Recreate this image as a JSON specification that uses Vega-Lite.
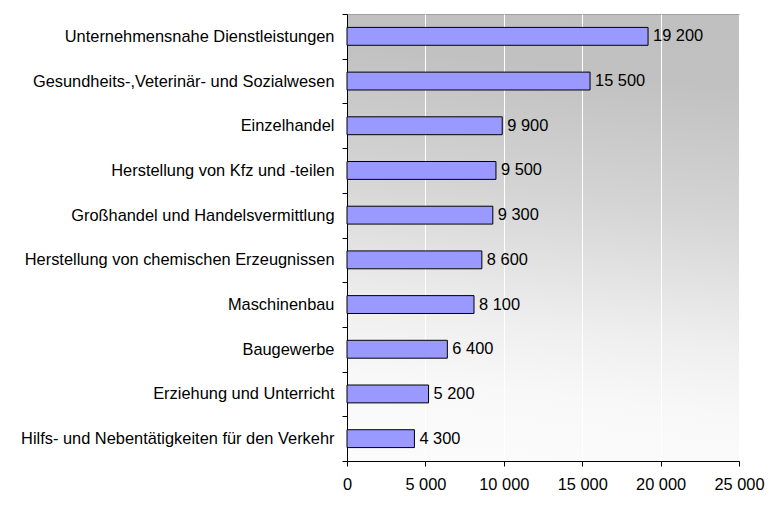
{
  "$schema": "https://vega.github.io/schema/vega-lite/v6.json",
  "width": 392,
  "height": 447,
  "autosize": {"type": "none"},
  "padding": {"left": 347, "top": 14, "right": 31, "bottom": 53},
  "background": "white",
  "config": {
    "font": "Liberation Sans",
    "locale": {"number": {"decimal": ",", "thousands": " ", "grouping": [3], "currency": ["", " €"]}},
    "view": {
      "stroke": "#a0a0a0",
      "fill": {
        "gradient": "linear", "x1": 0.55, "y1": 0, "x2": 0.45, "y2": 1,
        "stops": [
          {"offset": 0, "color": "#c0c0c0"},
          {"offset": 0.12, "color": "#c1c1c1"},
          {"offset": 0.4, "color": "#d4d4d4"},
          {"offset": 0.7, "color": "#efefef"},
          {"offset": 0.85, "color": "#f8f8f8"},
          {"offset": 1, "color": "#fbfbfb"}
        ]
      }
    }
  },
  "data": {
    "values": [
      {"branche": "Unternehmensnahe Dienstleistungen", "wert": 19200},
      {"branche": "Gesundheits-,Veterinär- und Sozialwesen", "wert": 15500},
      {"branche": "Einzelhandel", "wert": 9900},
      {"branche": "Herstellung von Kfz und -teilen", "wert": 9500},
      {"branche": "Großhandel und Handelsvermittlung", "wert": 9300},
      {"branche": "Herstellung von chemischen Erzeugnissen", "wert": 8600},
      {"branche": "Maschinenbau", "wert": 8100},
      {"branche": "Baugewerbe", "wert": 6400},
      {"branche": "Erziehung und Unterricht", "wert": 5200},
      {"branche": "Hilfs- und Nebentätigkeiten für den Verkehr", "wert": 4300}
    ]
  },
  "encoding": {
    "y": {
      "field": "branche", "type": "nominal", "sort": null,
      "scale": {"paddingInner": 0, "paddingOuter": 0},
      "axis": {
        "title": null, "tickBand": "extent", "labelFontSize": 16.4, "labelColor": "black",
        "domainColor": "black", "tickColor": "black", "tickSize": 5, "labelPadding": 8,
        "labelLimit": 400, "grid": false
      }
    },
    "x": {
      "field": "wert", "type": "quantitative",
      "scale": {"domain": [0, 25000], "nice": false},
      "axis": {
        "title": null, "values": [0, 5000, 10000, 15000, 20000, 25000],
        "labelExpr": "format(datum.value, ',')",
        "grid": true, "gridColor": "white", "gridOpacity": 1, "gridWidth": 1,
        "labelFontSize": 16.4, "labelColor": "black", "domainColor": "black", "tickColor": "black",
        "tickSize": 5, "labelPadding": 10, "labelFlush": false
      }
    }
  },
  "layer": [
    {"mark": {"type": "bar", "fill": "#9999ff", "stroke": "black", "strokeWidth": 1, "height": {"band": 0.4}}},
    {
      "mark": {"type": "text", "align": "left", "baseline": "middle", "dx": 5, "fontSize": 16.4, "color": "black"},
      "encoding": {"text": {"field": "wert", "type": "quantitative", "format": ","}}
    }
  ]
}
